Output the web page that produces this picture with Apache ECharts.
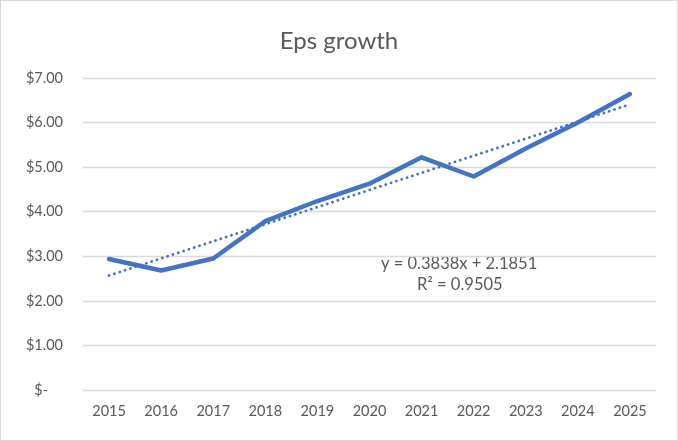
<!DOCTYPE html>
<html><head><meta charset="utf-8">
<script src="https://cdn.jsdelivr.net/npm/echarts@6/dist/echarts.min.js"></script>
<style>html,body{margin:0;padding:0;background:#fff}#c{width:678px;height:441px;box-sizing:border-box;border:1px solid #d9d9d9}</style>
</head><body><div id="c"></div>
<script>
const years = ['2015','2016','2017','2018','2019','2020','2021','2022','2023','2024','2025'];
const eps = [2.94, 2.68, 2.95, 3.79, 4.24, 4.63, 5.22, 4.79, 5.42, 6.00, 6.64];
const trendSlope = 0.3838;
const trendIntercept = 2.1851;
const trendText = ['y = 0.3838x + 2.1851', 'R² = 0.9505'];
const yTicks = [0, 1, 2, 3, 4, 5, 6, 7];

const trend = years.map((_, i) => +(trendSlope * (i + 1) + trendIntercept).toFixed(4));
const font = 'Lato, "Open Sans", sans-serif';
const chart = echarts.init(document.getElementById('c'));
chart.setOption({
  animation: false,
  title: { text: 'Eps growth', left: 'center', top: 23, textStyle: { fontFamily: font, fontSize: 24, fontWeight: 'normal', color: '#595959' } },
  grid: { left: 82, right: 21, top: 77, bottom: 50 },
  xAxis: {
    type: 'category', data: years, boundaryGap: true,
    axisLine: { show: false }, axisTick: { show: false },
    axisLabel: { color: '#595959', fontFamily: font, fontSize: 14.5, margin: 14 }
  },
  yAxis: {
    type: 'value', min: yTicks[0], max: yTicks[yTicks.length - 1], interval: 1,
    axisLine: { show: false }, axisTick: { show: false },
    splitLine: { lineStyle: { color: '#d9d9d9', width: 1.3 } },
    axisLabel: { color: '#595959', fontFamily: font, fontSize: 14.5, margin: 20,
      formatter: v => v === 0 ? '$-    ' : '$' + v.toFixed(2) }
  },
  series: [
    { type: 'line', data: eps, symbol: 'none', lineStyle: { color: '#4472C4', width: 4.5, cap: 'round', join: 'round' }, z: 3 },
    { type: 'line', data: trend, symbol: 'none', lineStyle: { color: '#4472C4', width: 2.8, type: [0.1, 5.5], cap: 'round' }, z: 2 }
  ],
  graphic: [
    { type: 'text', left: 380, top: 254, style: { text: trendText[0], fontFamily: font, fontSize: 16.5, fill: '#595959' } },
    { type: 'text', left: 416, top: 275, style: { text: trendText[1], fontFamily: font, fontSize: 16.5, fill: '#595959' } }
  ]
});
</script></body></html>
